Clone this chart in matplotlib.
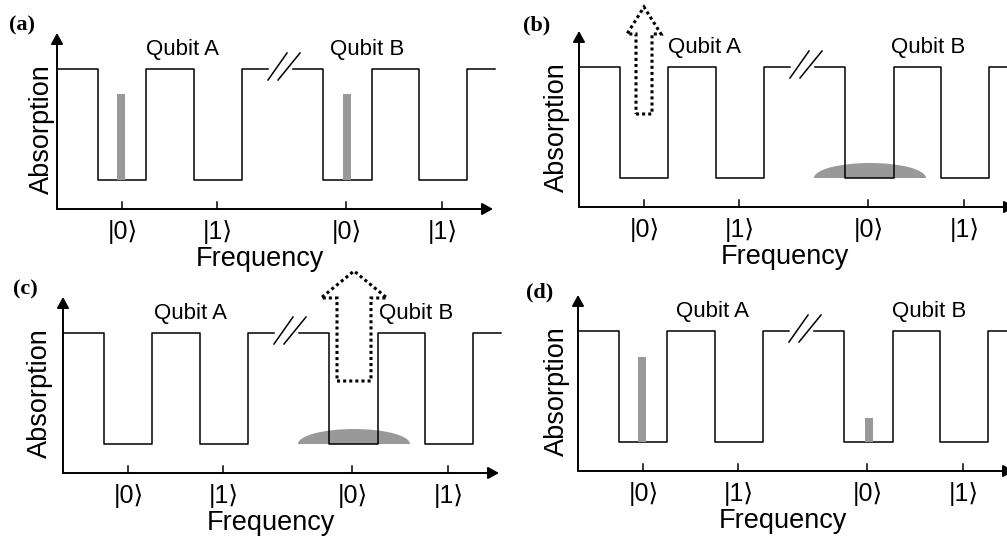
import matplotlib
matplotlib.use('Agg')
import matplotlib.pyplot as plt
from matplotlib.transforms import Affine2D
from matplotlib.patches import Ellipse, Rectangle, Polygon

# ---- diagram data (panel-local units: x right of y axis, h above x axis) ----
panel_names = ['(a)', '(b)', '(c)', '(d)']
origins = [(57, 209), (579, 207), (63, 473), (578, 471)]   # y-axis x, x-axis y

level_hi = 140
level_lo = 29
left_x = [0, 41, 89, 137, 185, 211]
left_lv = [1, 0, 1, 0, 1, 1]
right_x = [236, 266, 315, 362, 410, 438]
right_lv = [1, 0, 1, 0, 1, 1]

tick_pos = [65, 160, 289, 385]
tick_labels = ['|0\u27e9', '|1\u27e9', '|0\u27e9', '|1\u27e9']

# gray bars (center, height) per panel
bars = [[(64, 115), (290, 115)], [], [], [(64, 114), (291, 53)]]
# gray hump (center, width, height) per panel
humps = [None, (291, 112, 15), (291, 112, 15), None]
# dotted arrow (center, shaft half, wing half, bottom, head base, tip)
dotted = [None, (65, 8, 17, 93, 173, 200), (291, 17, 33, 92, 175, 202), None]

qubit_a_x = [126, 126, 127, 134]
qubit_b_x = [310, 349, 353, 351]
absorb_x = [-15, -22, -23, -21]
freq_x = [203, 206, 208, 205]
label_pos = [(-35, 184), (-42, 182), (-38, 184), (-38, 179)]

sans = ['Liberation Sans', 'DejaVu Sans']
gray = '#999999'

fig = plt.figure(figsize=(10.07, 5.38), dpi=100)
ax = fig.add_axes([0, 0, 1, 1])
ax.set_xlim(0, 1007)
ax.set_ylim(538, 0)
ax.axis('off')

for i, (ox, oy) in enumerate(origins):
    tr = Affine2D().scale(1, -1).translate(ox, oy) + ax.transData

    # hump under the step line
    if humps[i] is not None:
        cx, w, h = humps[i]
        el = Ellipse((cx, level_lo), w, 2 * h, facecolor=gray, edgecolor='none',
                     transform=tr, zorder=1)
        clip = Rectangle((cx - w, level_lo), 2 * w, 3 * h, transform=tr)
        ax.add_patch(el)
        el.set_clip_path(clip)

    # step profile
    for xs, lv in [(left_x, left_lv), (right_x, right_lv)]:
        ys = [level_hi if v else level_lo for v in lv]
        ax.plot(xs, ys, drawstyle='steps-post', color='black', lw=1.1,
                transform=tr, zorder=2, clip_on=True)

    # break marks
    ax.plot([211, 230], [129, 156], color='black', lw=1.1, transform=tr)
    ax.plot([221, 243], [129, 156], color='black', lw=1.1, transform=tr)

    # gray bars
    for bx, bh in bars[i]:
        ax.add_patch(Rectangle((bx - 4, level_lo), 8, bh - level_lo, facecolor=gray,
                               edgecolor='none', transform=tr, zorder=3))

    # axes with arrows
    arrow = dict(arrowstyle='-|>,head_length=0.65,head_width=0.36', color='black',
                 lw=1.4, shrinkA=0, shrinkB=0, mutation_scale=10)
    ax.annotate('', xy=(0, 176), xytext=(0, 0), xycoords=tr, textcoords=tr,
                arrowprops=arrow, zorder=4)
    ax.annotate('', xy=(436, 0), xytext=(0, 0), xycoords=tr, textcoords=tr,
                arrowprops=arrow, zorder=4)

    # ticks and labels
    for tx, tl in zip(tick_pos, tick_labels):
        ax.plot([tx, tx], [0, 7], color='black', lw=1.1, transform=tr)
        ax.text(tx + 1, -30, tl, transform=tr, ha='center', va='baseline',
                fontsize=18, family=sans)

    # dotted arrow
    if dotted[i] is not None:
        c, s, w, b, base, tip = dotted[i]
        verts = [(c - s, b), (c + s, b), (c + s, base), (c + w, base), (c, tip),
                 (c - w, base), (c - s, base)]
        ax.add_patch(Polygon(verts, closed=True, fill=False, edgecolor='black',
                             lw=2.2, linestyle=(0, (1, 1)), transform=tr, zorder=5))

    # texts
    ax.text(qubit_a_x[i], 160, 'Qubit A', transform=tr, ha='center', va='center',
            fontsize=16, family=sans)
    ax.text(qubit_b_x[i], 160, 'Qubit B', transform=tr, ha='center', va='center',
            fontsize=16, family=sans)
    ax.text(absorb_x[i], 80, 'Absorption', transform=tr, ha='center', va='center',
            rotation=90, fontsize=19.5, family=sans)
    ax.text(freq_x[i], -57, 'Frequency', transform=tr, ha='center', va='baseline',
            fontsize=19.5, family=sans)
    lx, ly = label_pos[i]
    ax.text(lx, ly, panel_names[i], transform=tr, ha='center', va='center',
            fontsize=16, fontweight='bold', family='Liberation Serif')

fig.savefig('out.png', dpi=100)
